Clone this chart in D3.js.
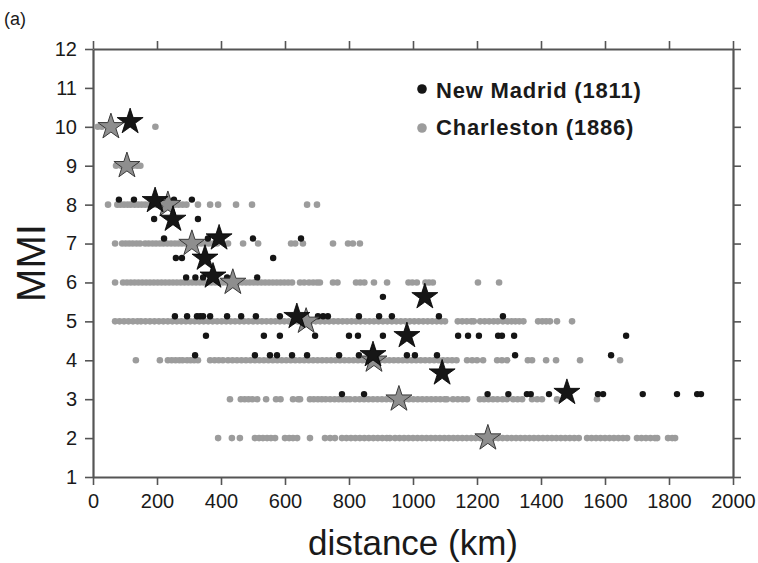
<!DOCTYPE html>
<html>
<head>
<meta charset="utf-8">
<script src="https://cdn.jsdelivr.net/npm/d3@7"></script>
<style>
  body { margin: 0; background: #fff; }
  text { font-family: "Liberation Sans", Arial, Helvetica, sans-serif; }
</style>
</head>
<body>
<div id="chart"></div>
<script>
// Charleston (1886) reports, one row of distances (km) per intensity level
const charlestonLevels = [10, 9, 8, 7, 6, 5, 4, 3, 2];
const charlestonKm = [
    [15, 28, 55, 195],
    [72, 88, 100, 112, 125, 138, 148],
    [47, 76, 86, 97, 108, 118, 130, 141, 152, 163, 175, 186, 197, 209, 220, 232, 244, 256, 268, 280, 292, 328, 366, 391, 447, 497, 669, 700],
    [69, 91, 102, 113, 124, 136, 147, 163, 174, 186, 197, 209, 220, 232, 244, 256, 267, 278, 290, 301, 313, 325, 338, 350, 362, 375, 388, 422, 469, 516, 619, 632, 656, 750, 797, 812, 834],
    [69, 94, 106, 118, 130, 142, 154, 166, 178, 190, 202, 214, 226, 238, 250, 262, 274, 286, 298, 310, 322, 334, 346, 358, 370, 382, 394, 406, 418, 430, 442, 454, 466, 478, 490, 502, 514, 526, 538, 550, 562, 574, 586, 598, 610, 622, 647, 660, 675, 688, 700, 709, 750, 764, 822, 835, 848, 878, 919, 986, 998, 1012, 1039, 1050, 1062, 1203, 1269],
    [69, 83, 97, 111, 125, 139, 150, 164, 178, 192, 206, 220, 234, 248, 262, 276, 290, 304, 318, 332, 346, 360, 374, 388, 402, 416, 430, 444, 458, 472, 486, 500, 514, 528, 542, 556, 570, 584, 598, 612, 626, 640, 654, 668, 682, 696, 710, 724, 738, 752, 766, 780, 794, 808, 822, 836, 850, 864, 878, 892, 906, 920, 934, 948, 962, 976, 990, 1004, 1018, 1032, 1046, 1060, 1074, 1088, 1100, 1140, 1154, 1168, 1182, 1190, 1210, 1224, 1238, 1252, 1265, 1281, 1295, 1308, 1320, 1332, 1345, 1391, 1404, 1416, 1428, 1450, 1497],
    [134, 209, 234, 246, 258, 270, 280, 294, 305, 316, 328, 366, 380, 393, 406, 422, 436, 450, 464, 478, 492, 506, 520, 534, 548, 562, 576, 590, 604, 618, 632, 646, 660, 674, 688, 702, 716, 730, 744, 758, 772, 786, 800, 814, 828, 842, 856, 870, 884, 898, 912, 926, 940, 954, 968, 982, 996, 1010, 1024, 1038, 1052, 1066, 1080, 1094, 1108, 1122, 1136, 1169, 1185, 1200, 1219, 1263, 1278, 1294, 1359, 1372, 1416, 1447, 1522, 1647],
    [428, 462, 474, 486, 498, 513, 541, 572, 586, 625, 641, 647, 678, 690, 703, 715, 727, 741, 755, 768, 780, 792, 803, 819, 833, 847, 861, 875, 889, 903, 917, 931, 945, 959, 973, 987, 1001, 1015, 1029, 1043, 1057, 1071, 1085, 1099, 1106, 1125, 1140, 1155, 1169, 1209, 1222, 1236, 1250, 1264, 1280, 1294, 1313, 1327, 1341, 1372, 1388, 1403, 1450, 1575],
    [391, 434, 459, 506, 519, 531, 544, 556, 569, 600, 613, 625, 638, 678, 725, 741, 756, 778, 792, 806, 820, 834, 848, 862, 876, 890, 904, 918, 928, 944, 958, 972, 986, 1000, 1014, 1028, 1042, 1056, 1070, 1084, 1098, 1112, 1126, 1140, 1154, 1168, 1182, 1196, 1210, 1224, 1238, 1252, 1266, 1280, 1294, 1308, 1322, 1336, 1350, 1364, 1378, 1392, 1406, 1420, 1434, 1448, 1462, 1476, 1490, 1504, 1518, 1544, 1558, 1572, 1586, 1600, 1614, 1628, 1642, 1656, 1669, 1700, 1714, 1728, 1742, 1756, 1763, 1797, 1810, 1819]
];

// New Madrid (1811) reports, plotted slightly above the level
const newMadridLevels = [8.13, 7.63, 7.13, 6.63, 6.13, 5.63, 5.13, 4.63, 4.13, 3.13];
const newMadridKm = [
    [81, 128, 253, 309],
    [191, 328],
    [222, 359, 500, 650],
    [259, 278, 563],
    [291, 320, 344, 419, 513],
    [906],
    [256, 294, 325, 335, 344, 366, 419, 463, 509, 584, 703, 719, 734, 831, 894, 934, 1081, 1281],
    [353, 534, 584, 694, 800, 828, 906, 1141, 1172, 1206, 1266, 1278, 1316, 1666],
    [319, 506, 553, 575, 622, 669, 769, 831, 981, 1006, 1075, 1319, 1619],
    [778, 847, 1233, 1298, 1356, 1368, 1425, 1578, 1594, 1718, 1825, 1888, 1900]
];

// mean distance per level (stars)
const charlestonStarKm = [56, 106, 234, 309, 437, 666, 878, 956, 1234];
const charlestonStarMmi = [10, 9, 8, 7, 6, 5, 4, 3, 2];
const newMadridStarKm = [116, 194, 250, 394, 350, 375, 1037, 637, 981, 875, 1091, 1481];
const newMadridStarMmi = [10.13, 8.1, 7.62, 7.14, 6.62, 6.16, 5.63, 5.12, 4.63, 4.14, 3.67, 3.17];

const xTicks = [0, 200, 400, 600, 800, 1000, 1200, 1400, 1600, 1800, 2000];
const yTicks = [1, 2, 3, 4, 5, 6, 7, 8, 9, 10, 11, 12];

const width = 758, height = 563;
const margin = {top: 49, right: 25, bottom: 86, left: 93};
const plotWidth = width - margin.left - margin.right,
      plotHeight = height - margin.top - margin.bottom;

const axisColor = "#555";
const greyDot = "#9c9c9c", blackDot = "#151515";

const svg = d3.select("#chart")
    .append("svg")
    .attr("width", width)
    .attr("height", height);

const plot = svg.append("g")
    .attr("transform", "translate(" + margin.left + "," + margin.top + ")");

const x = d3.scaleLinear().domain([0, 2000]).range([0, plotWidth]);
const y = d3.scaleLinear().domain([1, 12]).range([plotHeight, 0]);

function styleAxis(g) {
    g.select(".domain").attr("stroke", axisColor).attr("stroke-width", 2.2);
    g.selectAll(".tick line").attr("stroke", axisColor).attr("stroke-width", 1.6);
    g.selectAll(".tick text")
        .attr("fill", "#1a1a1a")
        .style("font-size", "20px")
        .style("font-family", "'Liberation Sans', Arial, sans-serif");
}

plot.append("g")
    .attr("transform", "translate(0," + plotHeight + ")")
    .call(d3.axisBottom(x).tickValues(xTicks).tickSize(8).tickSizeOuter(0).tickPadding(9).tickFormat(d3.format("d")))
    .call(styleAxis);

plot.append("g")
    .call(d3.axisTop(x).tickValues(xTicks).tickSize(8).tickSizeOuter(0).tickFormat(""))
    .call(styleAxis);

plot.append("g")
    .call(d3.axisLeft(y).tickValues(yTicks).tickSize(8).tickSizeOuter(0).tickPadding(8).tickFormat(d3.format("d")))
    .call(styleAxis);

plot.append("g")
    .attr("transform", "translate(" + plotWidth + ",0)")
    .call(d3.axisRight(y).tickValues(yTicks).tickSize(8).tickSizeOuter(0).tickFormat(""))
    .call(styleAxis);

// flatten rows into points
function toPoints(levels, kmRows) {
    let pts = [];
    levels.forEach(function (level, i) {
        kmRows[i].forEach(function (km) {
            pts.push({km: km, mmi: level});
        });
    });
    return pts;
}

plot.append("g").selectAll("circle")
    .data(toPoints(charlestonLevels, charlestonKm))
    .enter().append("circle")
    .attr("cx", function (d) { return x(d.km); })
    .attr("cy", function (d) { return y(d.mmi); })
    .attr("r", 3.3)
    .attr("fill", greyDot);

plot.append("g").selectAll("circle")
    .data(toPoints(newMadridLevels, newMadridKm))
    .enter().append("circle")
    .attr("cx", function (d) { return x(d.km); })
    .attr("cy", function (d) { return y(d.mmi); })
    .attr("r", 3.2)
    .attr("fill", blackDot);

const star = d3.symbol().type(d3.symbolStar).size(210);

plot.append("g").selectAll("path")
    .data(charlestonStarKm.map(function (km, i) { return {km: km, mmi: charlestonStarMmi[i]}; }))
    .enter().append("path")
    .attr("d", star)
    .attr("transform", function (d) { return "translate(" + x(d.km) + "," + y(d.mmi) + ")"; })
    .attr("fill", "#8e8e8e")
    .attr("stroke", "#3a3a3a")
    .attr("stroke-width", 1);

plot.append("g").selectAll("path")
    .data(newMadridStarKm.map(function (km, i) { return {km: km, mmi: newMadridStarMmi[i]}; }))
    .enter().append("path")
    .attr("d", star)
    .attr("transform", function (d) { return "translate(" + x(d.km) + "," + y(d.mmi) + ")"; })
    .attr("fill", "#161616")
    .attr("stroke", "#000")
    .attr("stroke-width", 0.8);

// legend
const legend = [
    {label: "New Madrid (1811)", color: blackDot},
    {label: "Charleston (1886)", color: greyDot}
];
const legendG = svg.append("g").attr("transform", "translate(422,89)");
legendG.selectAll("circle")
    .data(legend)
    .enter().append("circle")
    .attr("cx", 0)
    .attr("cy", function (d, i) { return i * 39; })
    .attr("r", 4.8)
    .attr("fill", function (d) { return d.color; });
legendG.selectAll("text")
    .data(legend)
    .enter().append("text")
    .attr("x", 14)
    .attr("y", function (d, i) { return i * 37 + 9; })
    .attr("fill", "#1a1a1a")
    .style("font-size", "22px")
    .style("font-weight", "bold")
    .style("letter-spacing", "0.8px")
    .text(function (d) { return d.label; });

// labels
svg.append("text")
    .attr("x", 4)
    .attr("y", 25)
    .attr("fill", "#1a1a1a")
    .style("font-size", "18px")
    .text("(a)");

svg.append("text")
    .attr("x", margin.left + plotWidth / 2)
    .attr("y", 555)
    .attr("text-anchor", "middle")
    .attr("fill", "#1a1a1a")
    .style("font-size", "35px")
    .text("distance (km)");

svg.append("text")
    .attr("transform", "translate(45," + (margin.top + plotHeight / 2) + ") rotate(-90)")
    .attr("text-anchor", "middle")
    .attr("fill", "#1a1a1a")
    .style("font-size", "40px")
    .text("MMI");
</script>
</body>
</html>
